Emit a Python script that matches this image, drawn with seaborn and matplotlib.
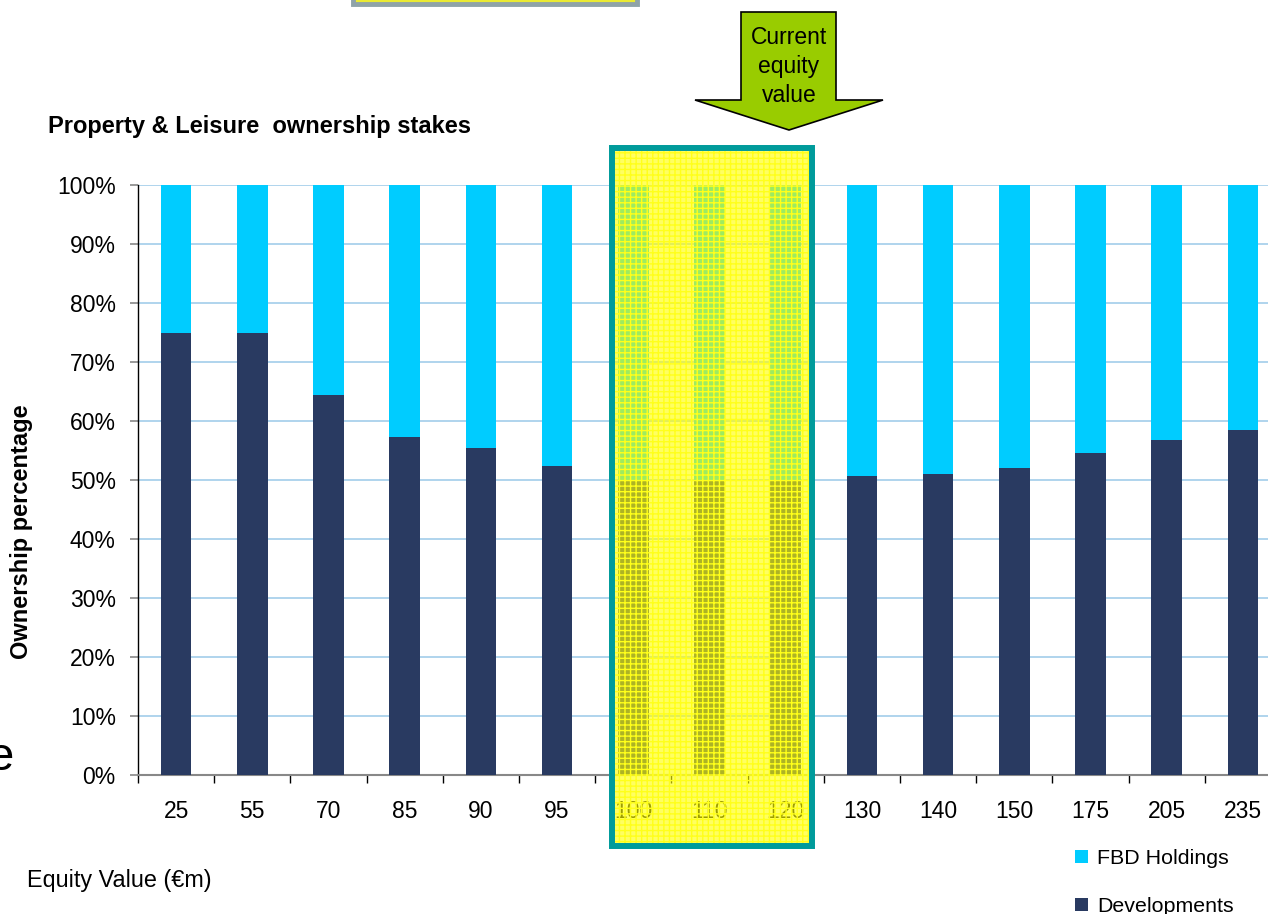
import numpy as np
import pandas as pd
import matplotlib
matplotlib.use("Agg")
import matplotlib.pyplot as plt
from matplotlib.patches import Rectangle, Polygon, Patch
import seaborn as sns

# Ownership split of Property & Leisure at each equity value (in %)
equity_values = ["25", "55", "70", "85", "90", "95", "100", "110", "120",
                 "130", "140", "150", "175", "205", "235"]
developments = [75.0, 75.0, 64.4, 57.3, 55.5, 52.4, 50.0, 50.0, 50.0,
                50.6, 51.1, 52.1, 54.6, 56.8, 58.5]
fbd_holdings = [25.0, 25.0, 35.6, 42.7, 44.5, 47.6, 50.0, 50.0, 50.0,
                49.4, 48.9, 47.9, 45.4, 43.2, 41.5]
y_ticks = [0, 10, 20, 30, 40, 50, 60, 70, 80, 90, 100]

CYAN = "#00ccff"
NAVY = "#293a61"
GRID = "#a9d1ec"
TEAL = "#009b9b"

W, H = 1268, 914


def fx(x):
    return x / W


def fy(y):
    return 1 - y / H


sns.set_theme(style="ticks")
plt.rcParams["font.family"] = ["Liberation Sans", "DejaVu Sans"]
plt.rcParams["text.color"] = "black"
plt.rcParams["xtick.color"] = "black"
plt.rcParams["ytick.color"] = "black"

df = pd.DataFrame({"equity": equity_values,
                   "developments": developments,
                   "fbd": fbd_holdings})
df["stack_top"] = df["developments"] + df["fbd"]

fig = plt.figure(figsize=(W / 100, H / 100), dpi=100)
ax = fig.add_axes([fx(138), fy(775), (1281 - 138) / W, (775 - 185) / H])

# stacked bars: full height in cyan, developments share drawn over it
sns.barplot(data=df, x="equity", y="stack_top", color=CYAN, saturation=1,
            width=0.4, ax=ax, zorder=2, edgecolor="none", linewidth=0)
sns.barplot(data=df, x="equity", y="developments", color=NAVY, saturation=1,
            width=0.4, ax=ax, zorder=3, edgecolor="none", linewidth=0)

ax.set_xlim(-0.5, len(equity_values) - 0.5)
ax.set_ylim(0, 100)
ax.set_yticks(y_ticks)
ax.set_yticklabels([f"{t}%" for t in y_ticks])
ax.set_xlabel("")
ax.set_ylabel("")

ax.yaxis.grid(True, color=GRID, linewidth=1.3)
ax.set_axisbelow(True)

for side in ("top", "right"):
    ax.spines[side].set_visible(False)
ax.spines["left"].set_color("black")
ax.spines["left"].set_linewidth(1.0)
ax.spines["bottom"].set_color("#888888")
ax.spines["bottom"].set_linewidth(1.5)

ax.set_xticks(np.arange(-0.5, len(equity_values), 1), minor=True)
ax.tick_params(axis="x", which="major", length=0, pad=18, labelsize=16.5,
               labelcolor="black")
ax.tick_params(axis="x", which="minor", length=6, width=1, color="black",
               direction="out")
ax.tick_params(axis="y", which="major", length=6, width=1.2, color="#888888",
               direction="out", pad=10, labelsize=16.5, labelcolor="black")

# titles and axis captions
fig.text(fx(48), fy(127), "Property & Leisure  ownership stakes",
         fontsize=17, fontweight="bold", ha="left", va="center")
fig.text(fx(22), fy(532), "Ownership percentage", fontsize=17,
         fontweight="bold", rotation=90, ha="center", va="center")
fig.text(fx(27), fy(881), "Equity Value (€m)", fontsize=16.8,
         ha="left", va="center")
fig.text(fx(1), fy(758), "e", fontsize=34, ha="center", va="center")

# legend
handles = [Patch(facecolor=CYAN, edgecolor="none"),
           Patch(facecolor=NAVY, edgecolor="none")]
fig.legend(handles, ["FBD Holdings", "Developments"], loc="upper left",
           bbox_to_anchor=(fx(1075), fy(849)), frameon=False, fontsize=15.4,
           handlelength=0.6, handleheight=0.6, handletextpad=0.45,
           labelspacing=1.35, borderaxespad=0, borderpad=0)

# highlighted band around the current equity range
x0, x1, y0, y1 = 612, 812, 148, 846
band = Rectangle((fx(x0), fy(y1)), fx(x1) - fx(x0), fy(y0) - fy(y1),
                 transform=fig.transFigure, facecolor=(1, 1, 0, 0.62),
                 edgecolor="none", zorder=5)
fig.add_artist(band)
plt.rcParams["hatch.linewidth"] = 1.0
pattern = Rectangle((fx(x0), fy(y1)), fx(x1) - fx(x0), fy(y0) - fy(y1),
                    transform=fig.transFigure, facecolor="none",
                    edgecolor="#ffff1a", hatch="+++", linewidth=0, zorder=6)
fig.add_artist(pattern)
frame = Rectangle((fx(x0), fy(y1)), fx(x1) - fx(x0), fy(y0) - fy(y1),
                  transform=fig.transFigure, facecolor="none",
                  edgecolor=TEAL, linewidth=4.3, zorder=7)
fig.add_artist(frame)

# "current equity value" pointer
arrow_px = [(741, 12), (836, 12), (836, 100), (883, 100), (789, 130),
            (695, 100), (741, 100)]
arrow = Polygon([(fx(x), fy(y)) for x, y in arrow_px], closed=True,
                transform=fig.transFigure, facecolor="#99cc00",
                edgecolor="black", linewidth=1.2, zorder=5)
fig.add_artist(arrow)
for line, yc in zip(["Current", "equity", "value"], [38, 67, 95]):
    fig.text(fx(789), fy(yc), line, fontsize=16.5, ha="center", va="center",
             zorder=8)

# bottom edge of a box above the chart
top_box = Rectangle((fx(353), fy(4)), fx(637) - fx(353), fy(-40) - fy(4),
                    transform=fig.transFigure, facecolor="#eaea33",
                    edgecolor="#8fa3a8", linewidth=3.5, zorder=5)
fig.add_artist(top_box)

fig.savefig("out.png", dpi=100)
